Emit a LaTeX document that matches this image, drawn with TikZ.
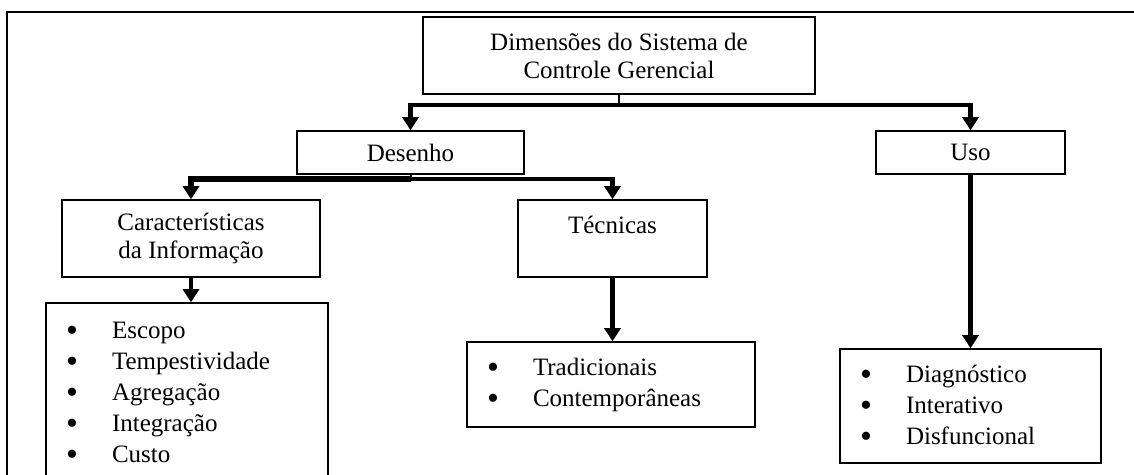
\documentclass[tikz,border=0pt]{standalone}
\usepackage{fontspec}
\setmainfont{Liberation Serif}
\usetikzlibrary{arrows.meta}
\newcommand\bul[1]{\makebox[44pt][l]{\makebox[8pt][c]{\fontsize{34}{31}\selectfont\raisebox{-3pt}{\textbullet}}}#1}
\begin{document}
\begin{tikzpicture}[x=1pt,y=-1pt,
  box/.style={draw,line width=1.6pt,inner sep=0pt,align=center,font=\fontsize{25}{28}\selectfont},
  listbox/.style={draw,line width=1.6pt,inner ysep=0pt,inner xsep=22pt,align=left,font=\fontsize{25}{31}\selectfont},
  conn/.style={line width=4.5pt,-{Triangle[width=16pt,length=13pt]}},
  stem/.style={line width=2pt}]
\useasboundingbox (0,0) rectangle (1134,474);
% outer frame
\draw[line width=2.5pt] (7,490) -- (7,12) -- (1150,12);
% nodes
\node[box,minimum width=392pt,minimum height=77pt] (top) at (619,55.5) {Dimensões do Sistema de\\Controle Gerencial};
\node[box,minimum width=227pt,minimum height=43pt] (desenho) at (410.5,152.5) {Desenho};
\node[box,minimum width=189pt,minimum height=43pt] (uso) at (970.5,152.5) {Uso};
\node[box,minimum width=258pt,minimum height=77pt] (caract) at (191,238.5) {Características\\da Informação};
\node[box,minimum width=189pt,minimum height=77pt] (tecnicas) at (612.5,238.5) {Técnicas\\\mbox{}};
\node[listbox,text width=238pt,minimum height=181pt] (list1) at (187,393.5)
  {\bul{Escopo}\\\bul{Tempestividade}\\\bul{Agregação}\\\bul{Integração}\\\bul{Custo}};
\node[listbox,text width=244pt,minimum height=85pt] (list2) at (611,384.5)
  {\bul{Tradicionais}\\\bul{Contemporâneas}};
\node[listbox,text width=217pt,minimum height=114pt] (list3) at (970.5,406)
  {\bul{Diagnóstico}\\\bul{Interativo}\\\bul{Disfuncional}};
% connectors
\path (top.south) ++(0,10) coordinate (j1);
\draw[stem] (top.south) -- (j1);
\draw[conn] (j1) -| (desenho.north);
\draw[conn] (j1) -| (uso.north);
\path (desenho.south) ++(0,4) coordinate (j2);
\draw[stem] (desenho.south) -- (j2);
\draw[conn,line width=6.5pt] (j2) -| (caract.north);
\draw[conn] (j2) -| (tecnicas.north);
\draw[conn] (caract.south) -- (caract.south |- list1.north);
\draw[conn] (tecnicas.south) -- (tecnicas.south |- list2.north);
\draw[conn] (uso.south) -- (uso.south |- list3.north);
\end{tikzpicture}
\end{document}
